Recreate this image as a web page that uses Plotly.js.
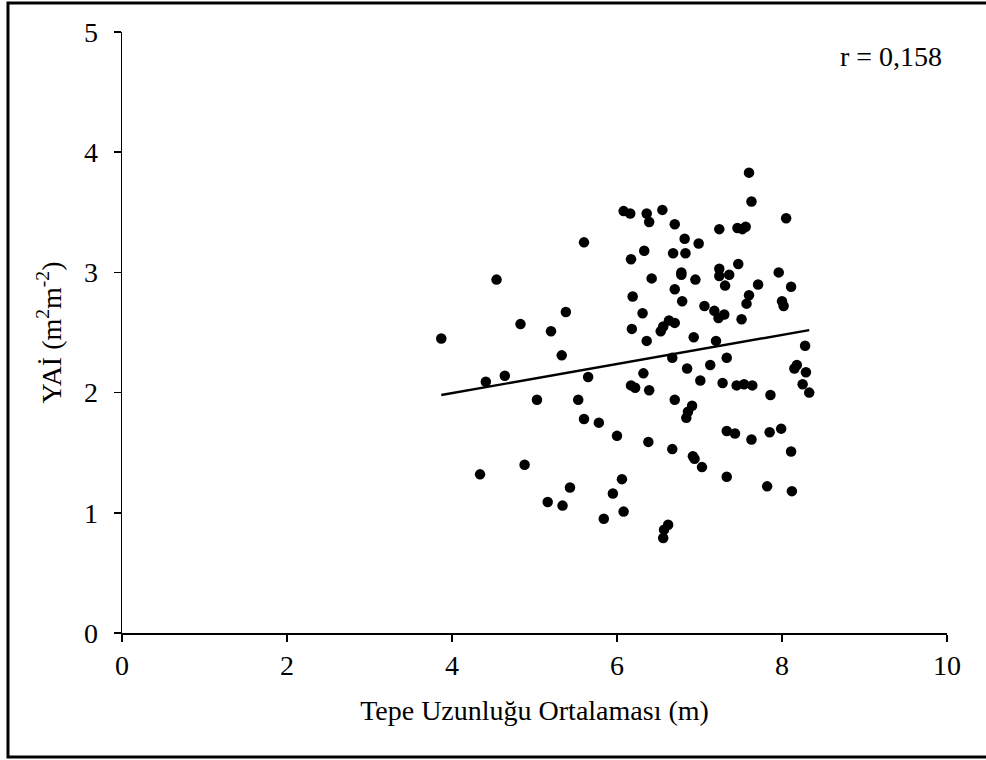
<!DOCTYPE html>
<html>
<head>
<meta charset="utf-8">
<script src="https://cdn.plot.ly/plotly-3.0.1.min.js"></script>
<style>
html,body{margin:0;padding:0;background:#fff;}
#chart{width:986px;height:760px;}
</style>
</head>
<body>
<div id="chart"></div>
<script>
// Tepe Uzunluğu Ortalaması (m)
const crownLength = [
  3.87,4.34,4.41,4.54,4.64,4.83,4.88,5.03,5.16,5.20,
  5.33,5.34,5.38,5.43,5.53,5.60,5.60,5.65,5.78,5.84,
  5.95,6.00,6.06,6.08,6.08,6.16,6.17,6.19,6.18,6.17,
  6.22,6.31,6.32,6.33,6.36,6.39,6.36,6.39,6.38,6.42,
  6.53,6.55,6.56,6.56,6.57,6.62,6.63,6.67,6.67,6.68,
  6.70,6.70,6.70,6.70,6.78,6.78,6.79,6.82,6.83,6.84,
  6.85,6.86,6.91,6.92,6.94,6.93,6.95,6.99,7.01,7.03,
  7.06,7.13,7.18,7.20,7.23,7.24,7.24,7.24,7.28,7.30,
  7.31,7.33,7.33,7.33,7.36,7.43,7.45,7.46,7.47,7.51,
  7.52,7.54,7.56,7.57,7.60,7.60,7.63,7.63,7.64,7.71,
  7.82,7.85,7.86,7.96,7.99,8.00,8.02,8.05,8.11,8.11,
  8.12,8.15,8.18,8.25,8.28,8.29,8.33
];
// YAİ (m2 m-2)
const lai = [
  2.45,1.32,2.09,2.94,2.14,2.57,1.40,1.94,1.09,2.51,
  2.31,1.06,2.67,1.21,1.94,3.25,1.78,2.13,1.75,0.95,
  1.16,1.64,1.28,1.01,3.51,3.49,3.11,2.80,2.53,2.06,
  2.04,2.66,2.16,3.18,3.49,3.42,2.43,2.02,1.59,2.95,
  2.51,3.52,2.55,0.79,0.86,0.90,2.60,2.29,1.53,3.16,
  3.40,2.86,2.58,1.94,3.00,2.98,2.76,3.28,3.16,1.79,
  2.20,1.84,1.89,1.47,1.45,2.46,2.94,3.24,2.10,1.38,
  2.72,2.23,2.68,2.43,2.62,3.36,3.03,2.97,2.08,2.65,
  2.89,2.29,1.68,1.30,2.98,1.66,2.06,3.37,3.07,2.61,
  3.36,2.07,3.38,2.74,2.81,3.83,3.59,1.61,2.06,2.90,
  1.22,1.67,1.98,3.00,1.70,2.76,2.72,3.45,2.88,1.51,
  1.18,2.20,2.23,2.07,2.39,2.17,2.00
];
// linear trend line endpoints
const trendX = [3.87, 8.33];
const trendY = [1.98, 2.52];
const xTicks = [0, 2, 4, 6, 8, 10];
const yTicks = [0, 1, 2, 3, 4, 5];
const rLabel = 'r = 0,158';
const xTitle = 'Tepe Uzunluğu Ortalaması (m)';
const yTitle = 'YAİ (m<sup>2</sup>m<sup>-2</sup>)';

const fam = '"Liberation Serif", "Times New Roman", serif';
const f = (s) => ({family: fam, size: s, color: '#000'});

const traces = [
  {
    x: crownLength, y: lai, type: 'scatter', mode: 'markers',
    marker: {color: '#000', size: 10.5},
    hoverinfo: 'x+y', showlegend: false
  },
  {
    x: trendX, y: trendY, type: 'scatter', mode: 'lines',
    line: {color: '#000', width: 2.4},
    hoverinfo: 'skip', showlegend: false
  }
];

const layout = {
  width: 986, height: 760,
  margin: {l: 122, r: 39, t: 32, b: 127},
  paper_bgcolor: '#fff', plot_bgcolor: '#fff',
  font: f(28),
  xaxis: {
    range: [0, 10], tickvals: xTicks, ticktext: xTicks.map(String),
    showgrid: false, zeroline: false,
    showline: true, linecolor: '#000', linewidth: 1.5,
    ticks: 'outside', ticklen: 7, tickwidth: 1.5, tickcolor: '#000',
    tickfont: f(28),
    title: {text: xTitle, font: f(28), standoff: 20}
  },
  yaxis: {
    range: [0, 5], tickvals: yTicks, ticktext: yTicks.map(String),
    showgrid: false, zeroline: false,
    showline: true, linecolor: '#000', linewidth: 1.5,
    ticks: 'outside', ticklen: 7, tickwidth: 1.5, tickcolor: '#000',
    ticklabelstandoff: 10,
    tickfont: f(28),
    title: {text: yTitle, font: f(28), standoff: 14}
  },
  annotations: [{
    xref: 'paper', yref: 'paper', x: 0.996, y: 0.96,
    xanchor: 'right', yanchor: 'middle', showarrow: false,
    text: rLabel, font: f(28)
  }],
  shapes: [{
    type: 'rect', xref: 'paper', yref: 'paper',
    x0: -0.1382, x1: 1.06, y0: -0.2063, y1: 1.0483,
    line: {color: '#000', width: 3}, fillcolor: 'rgba(0,0,0,0)', layer: 'below'
  }]
};

Plotly.newPlot('chart', traces, layout, {displayModeBar: false, staticPlot: true});
</script>
</body>
</html>
